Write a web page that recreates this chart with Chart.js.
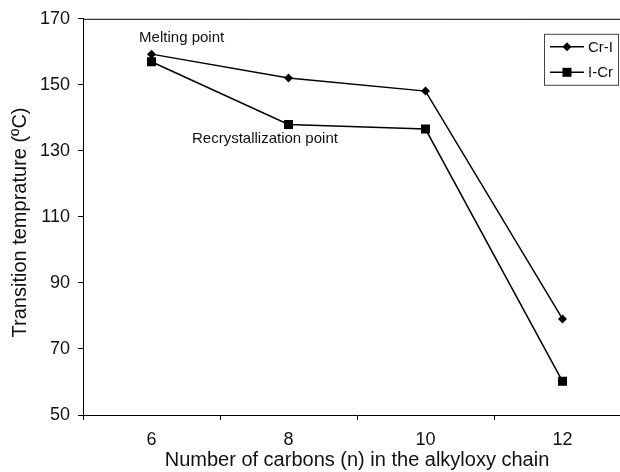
<!DOCTYPE html>
<html>
<head>
<meta charset="utf-8">
<script src="https://cdn.jsdelivr.net/npm/chart.js@4"></script>
<style>
  html, body { margin: 0; padding: 0; background: #fff; overflow: hidden; }
  #wrap { width: 640px; height: 472px; }
</style>
</head>
<body>
<div id="wrap"><canvas id="chart" width="640" height="472"></canvas></div>
<script>
// 탄소 수별 전이 온도
const carbons = ['6', '8', '10', '12'];
const crI = [159.3, 152.1, 148.1, 79.1];   // 용융점
const iCr = [157.0, 138.0, 136.6, 60.2];   // 재결정점
const yTicks = [50, 70, 90, 110, 130, 150, 170];

// 그래프 안 주석 (x는 카테고리 인덱스, y는 온도)
const notes = [
    { text: 'Melting point', x: 0.22, y: 164.2 },
    { text: 'Recrystallization point', x: 0.828, y: 133.5 }
];

const FONT = '"Liberation Sans", Arial, sans-serif';

const framePlugin = {
    id: 'frame',
    afterDraw(chart) {
        const { ctx, chartArea: a } = chart;
        ctx.save();
        ctx.strokeStyle = '#000';
        ctx.lineWidth = 1;
        ctx.beginPath();
        ctx.moveTo(a.left, a.top + 0.5);
        ctx.lineTo(a.right, a.top + 0.5);
        ctx.lineTo(a.right, a.bottom);
        ctx.stroke();

        // 주석
        ctx.fillStyle = '#111';
        ctx.font = '15px ' + FONT;
        ctx.textAlign = 'center';
        ctx.textBaseline = 'middle';
        const xs = chart.scales.x, ys = chart.scales.y;
        notes.forEach(n => ctx.fillText(n.text, xs.getPixelForValue(n.x), ys.getPixelForValue(n.y)));

        // 범례
        const bx = a.right - 87, by = a.top + 15, bw = 74, bh = 51;
        ctx.strokeStyle = '#444';
        ctx.strokeRect(bx + 0.5, by + 0.5, bw, bh);
        chart.data.datasets.forEach((ds, i) => {
            const cy = by + 13 + i * 25.5;
            ctx.strokeStyle = '#000';
            ctx.lineWidth = 1.5;
            ctx.beginPath();
            ctx.moveTo(bx + 6, cy);
            ctx.lineTo(bx + 40, cy);
            ctx.stroke();
            ctx.fillStyle = '#000';
            ctx.beginPath();
            if (ds.pointStyle === 'rect') {
                ctx.rect(bx + 23 - 4.5, cy - 4.5, 9, 9);
            } else {
                ctx.moveTo(bx + 23, cy - 4.5);
                ctx.lineTo(bx + 27.5, cy);
                ctx.lineTo(bx + 23, cy + 4.5);
                ctx.lineTo(bx + 18.5, cy);
                ctx.closePath();
            }
            ctx.fill();
            ctx.fillStyle = '#111';
            ctx.font = '15px ' + FONT;
            ctx.textAlign = 'left';
            ctx.fillText(ds.label, bx + 44, cy + 1);
        });
        ctx.restore();
    }
};

new Chart(document.getElementById('chart'), {
    type: 'line',
    data: {
        labels: carbons,
        datasets: [{
            label: 'Cr-I',
            data: crI,
            borderColor: '#000',
            backgroundColor: '#000',
            borderWidth: 1.5,
            pointStyle: 'rectRot',
            pointRadius: 4.5,
            pointBorderWidth: 0,
            tension: 0,
            fill: false
        }, {
            label: 'I-Cr',
            data: iCr,
            borderColor: '#000',
            backgroundColor: '#000',
            borderWidth: 1.5,
            pointStyle: 'rect',
            pointRadius: 6.4,
            pointBorderWidth: 0,
            tension: 0,
            fill: false
        }]
    },
    options: {
        responsive: false,
        animation: false,
        layout: { padding: { left: 0, top: 17, right: 9, bottom: 0 } },
        plugins: { legend: { display: false }, tooltip: { enabled: false } },
        scales: {
            x: {
                type: 'category',
                offset: true,
                afterFit(s) { s.height = 57; },
                grid: { offset: true, drawOnChartArea: false, drawTicks: true, tickLength: 5, color: '#000' },
                border: { color: '#000', width: 1 },
                ticks: { color: '#111', font: { family: FONT, size: 18 }, padding: 9, maxRotation: 0 },
                title: {
                    display: true,
                    text: 'Number of carbons (n) in the alkyloxy chain',
                    color: '#111',
                    font: { family: FONT, size: 20 },
                    padding: { top: 0, bottom: 0 }
                }
            },
            y: {
                min: 50,
                max: 170,
                afterFit(s) { s.width = 83; },
                afterBuildTicks(s) { s.ticks = yTicks.map(v => ({ value: v })); },
                grid: { drawOnChartArea: false, drawTicks: true, tickLength: 5, color: '#000' },
                border: { color: '#000', width: 1 },
                ticks: { color: '#111', font: { family: FONT, size: 18 }, padding: 8 },
                title: {
                    display: true,
                    text: 'Transition temprature (ºC)  ',
                    color: '#111',
                    font: { family: FONT, size: 20 },
                    padding: { top: 8, bottom: 0 }
                }
            }
        }
    },
    plugins: [framePlugin]
});
</script>
</body>
</html>
